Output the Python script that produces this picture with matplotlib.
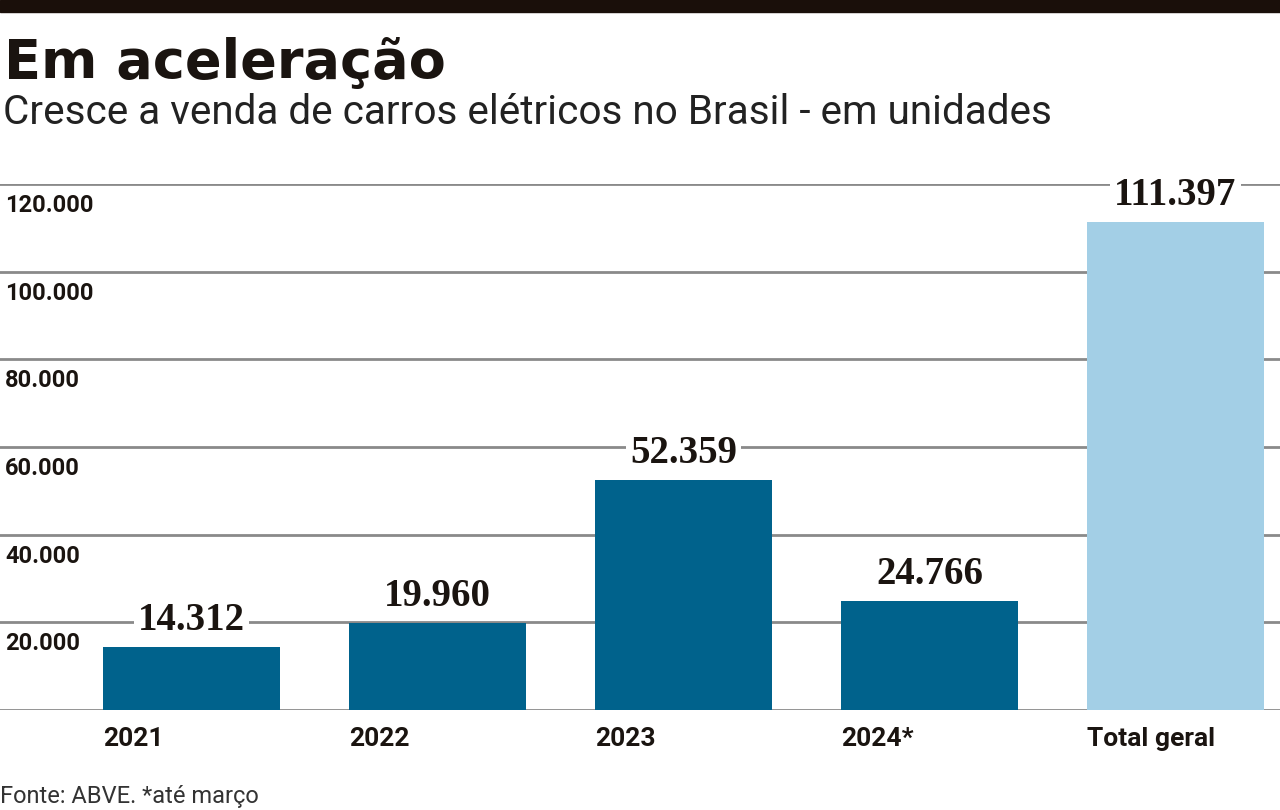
import matplotlib.pyplot as plt
from matplotlib.patches import Rectangle

# dados: vendas de carros elétricos no Brasil (unidades)
categorias = ['2021', '2022', '2023', '2024*', 'Total geral']
vendas = [14312, 19960, 52359, 24766, 111397]
rotulos = ['14.312', '19.960', '52.359', '24.766', '111.397']
ticks_y = [20000, 40000, 60000, 80000, 100000, 120000]
ticks_y_txt = ['20.000', '40.000', '60.000', '80.000', '100.000', '120.000']

azul_escuro = '#00628c'
azul_claro = '#a3cfe6'
cor_texto = '#1a1410'
cor_grade = '#8a8a8a'

fig = plt.figure(figsize=(12.8, 8.1), dpi=100)
fig.patch.set_facecolor('white')

# faixa preta no topo
fig.patches.append(Rectangle((0, 1 - 12 / 810), 1, 12 / 810, transform=fig.transFigure,
                             color='#1a0f0a', zorder=0))

fig.text(4 / 1280, 1 - 78 / 810, 'Em aceleração', fontsize=39, fontweight='bold',
         family='DejaVu Sans', color=cor_texto, va='baseline')
fig.text(3 / 1280, 1 - 124 / 810, 'Cresce a venda de carros elétricos no Brasil - em unidades',
         fontsize=29.2, family='Roboto', color='#222222', va='baseline')
fig.text(0 / 1280, 1 - 803 / 810, 'Fonte: ABVE. *até março', fontsize=17,
         family='Roboto', color='#333333', va='baseline')

ax = fig.add_axes([0, 100 / 810, 1, (710 - 184) / 810])
ax.set_xlim(-191.5 / 246, (1280 - 191.5) / 246)
ax.set_ylim(0, 120000)
for s in ax.spines.values():
    s.set_visible(False)
ax.set_xticks([])
ax.set_yticks([])

# linhas de grade
for v in [0] + ticks_y:
    ax.axhline(v, color=cor_grade, lw=2, zorder=1)

x = list(range(len(categorias)))
cores = [azul_escuro] * 4 + [azul_claro]
ax.bar(x, vendas, width=0.72, color=cores, zorder=2)

for i, v in enumerate(vendas):
    ax.annotate(rotulos[i], xy=(i, v), xytext=(0, 8), textcoords='offset pixels',
                ha='center', va='bottom', fontsize=28, fontweight='bold',
                family='Liberation Serif', color=cor_texto, zorder=3,
                bbox=dict(boxstyle='square,pad=0.1', fc='white', ec='none'))
    ax.annotate(categorias[i], xy=(i - 0.36, 0), xytext=(0, -17), textcoords='offset pixels',
                ha='left', va='top', fontsize=19, fontweight='bold',
                family='Roboto', color=cor_texto)

for v, t in zip(ticks_y, ticks_y_txt):
    ax.annotate(t, xy=(5 / 1280, v), xycoords=('axes fraction', 'data'),
                xytext=(0, -10), textcoords='offset pixels', ha='left', va='top',
                fontsize=17, fontweight='bold', family='Roboto', color=cor_texto)

fig.savefig('out.png', dpi=100, facecolor='white')
